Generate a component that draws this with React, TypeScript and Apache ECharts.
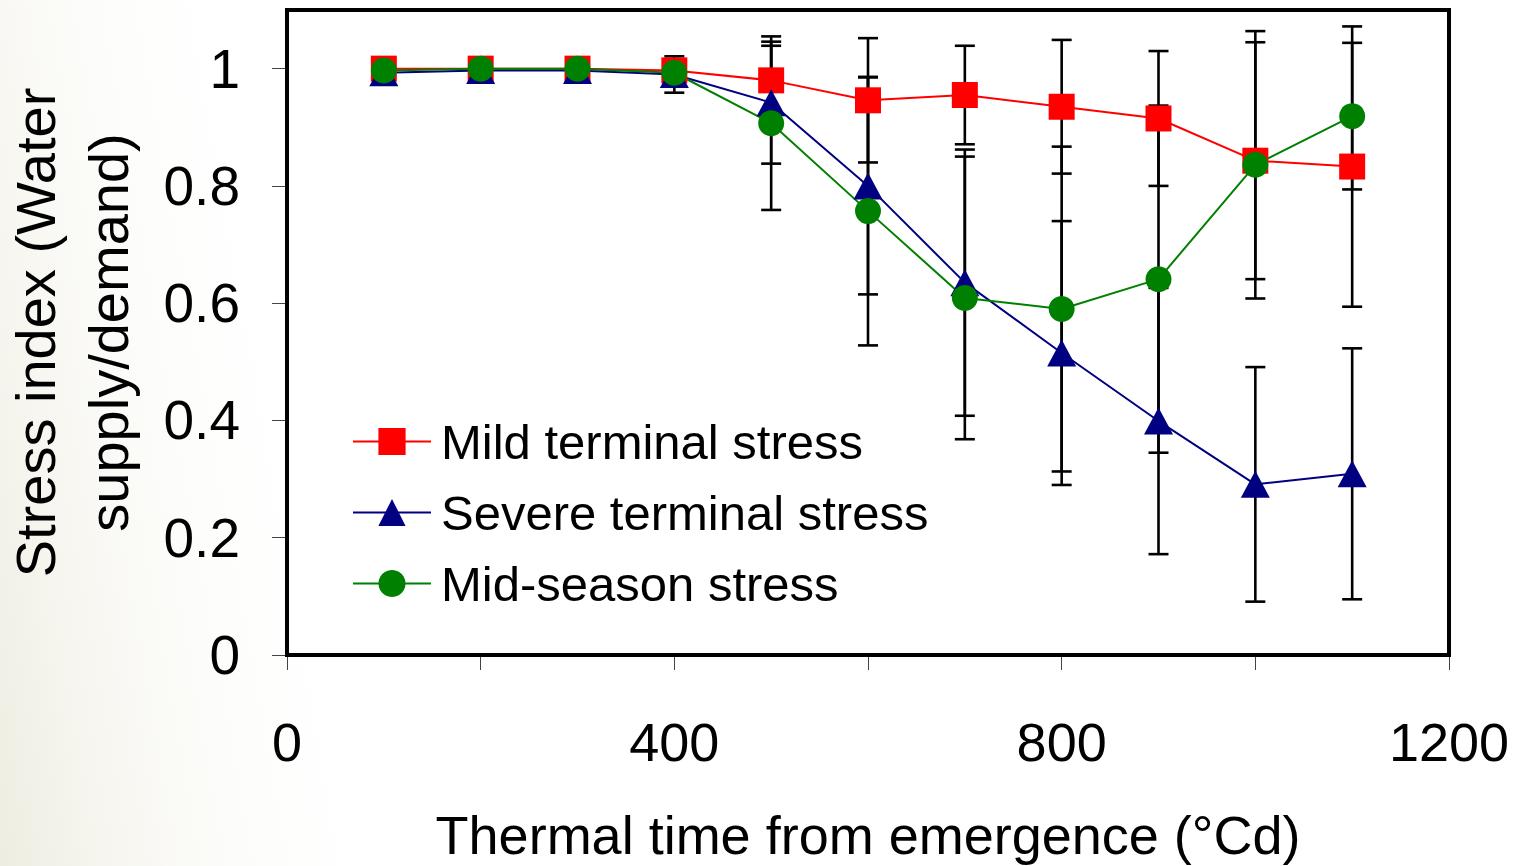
import React, { useEffect, useRef } from "react";
import * as echarts from "echarts";

const thermalTime = [100, 200, 300, 400, 500, 600, 700, 800, 900, 1000, 1100];

const mildStress = [1.0, 1.0, 1.0, 0.997, 0.98, 0.946, 0.955, 0.935, 0.915, 0.843, 0.833];
const mildErr = [0, 0, 0, 0, 0.059, 0.106, 0.084, 0.114, 0.115, 0.202, 0.239];

const severeStress = [0.993, 0.997, 0.997, 0.99, 0.942, 0.8, 0.635, 0.515, 0.399, 0.291, 0.309];
const severeErr = [0, 0, 0, 0.031, 0.104, 0.185, 0.227, 0.225, 0.227, 0.2, 0.214];

const midStress = [0.997, 1.0, 1.0, 0.993, 0.907, 0.757, 0.609, 0.59, 0.641, 0.836, 0.919];
const midErr = [0, 0, 0, 0, 0.148, 0.229, 0.241, 0.277, 0.296, 0.228, 0.125];

const xTickValues = [0, 200, 400, 600, 800, 1000, 1200];
const xLabelValues = [0, 400, 800, 1200];
const yTickValues = [0, 0.2, 0.4, 0.6, 0.8, 1];

const seriesNames = ["Mild terminal stress", "Severe terminal stress", "Mid-season stress"];

const FONT = "'Liberation Sans', Arial, Helvetica, sans-serif";

function pairs(vals: number[]) {
  return thermalTime.map((t, i) => [t, vals[i]]);
}
function errData(vals: number[], errs: number[]) {
  return thermalTime.map((t, i) => [t, vals[i] - errs[i], vals[i] + errs[i]]);
}

function errorRender(params: any, api: any) {
  const x = api.value(0);
  const lo = api.value(1);
  const hi = api.value(2);
  if (Math.abs(hi - lo) < 1e-9) return { type: "group", children: [] };
  const pLo = api.coord([x, lo]);
  const pHi = api.coord([x, hi]);
  const hw = 10;
  const style = { stroke: "#000", lineWidth: 2.6 };
  return {
    type: "group",
    children: [
      { type: "line", shape: { x1: pLo[0], y1: pLo[1], x2: pHi[0], y2: pHi[1] }, style },
      { type: "line", shape: { x1: pLo[0] - hw, y1: pLo[1], x2: pLo[0] + hw, y2: pLo[1] }, style },
      { type: "line", shape: { x1: pHi[0] - hw, y1: pHi[1], x2: pHi[0] + hw, y2: pHi[1] }, style },
    ],
  };
}

export default function App() {
  const ref = useRef<HTMLDivElement>(null);
  useEffect(() => {
    if (!ref.current) return;
    const chart = echarts.init(ref.current, null, { renderer: "svg" });
    const colors = ["#FF0000", "#000080", "#008000"];
    const symbols = ["rect", "triangle", "circle"];
    const vals = [mildStress, severeStress, midStress];
    const errs = [mildErr, severeErr, midErr];
    const lineSeries = vals.map((v, i) => ({
      type: "line",
      name: seriesNames[i],
      data: pairs(v),
      symbol: symbols[i],
      symbolSize: symbols[i] === "triangle" ? [29, 27] : 26,
      showAllSymbol: true,
      color: colors[i],
      lineStyle: { color: colors[i], width: 2 },
      itemStyle: { color: colors[i] },
      z: 5,
    }));
    const errSeries = vals.map((v, i) => ({
      type: "custom",
      name: seriesNames[i] + " error",
      data: errData(v, errs[i]),
      renderItem: errorRender,
      encode: { x: 0, y: [1, 2] },
      z: 3,
      silent: true,
    }));
    chart.setOption({
      animation: false,
      backgroundColor: "#ffffff",
      textStyle: { fontFamily: FONT },
      graphic: [
        {
          type: "rect",
          z: -10,
          silent: true,
          shape: { x: 0, y: 0, width: 340, height: 866 },
          style: {
            fill: {
              type: "linear",
              x: 0,
              y: 1,
              x2: 1,
              y2: 0.55,
              colorStops: [
                { offset: 0, color: "rgba(224,222,200,0.55)" },
                { offset: 0.45, color: "rgba(236,234,220,0.25)" },
                { offset: 1, color: "rgba(255,255,255,0)" },
              ],
            },
          },
        },
      ],
      grid: {
        left: 287,
        top: 10,
        right: 65,
        bottom: 211,
        show: true,
        backgroundColor: "#ffffff",
        borderColor: "#000",
        borderWidth: 4,
        outerBoundsMode: "none",
        containLabel: false,
        z: 1,
      },
      legend: {
        orient: "vertical",
        left: 352,
        top: 417,
        padding: 0,
        itemWidth: 78,
        itemHeight: 34,
        itemGap: 22,
        data: seriesNames,
        textStyle: {
          fontSize: 49,
          lineHeight: 48,
          color: "#000",
          fontFamily: FONT,
          padding: [0, 0, 0, 5],
        },
      },
      xAxis: {
        type: "value",
        min: 0,
        max: 1200,
        interval: 200,
        splitLine: { show: false },
        axisLine: { show: false },
        axisTick: {
          show: true,
          length: 15,
          lineStyle: { color: "#444", width: 1 },
          customValues: xTickValues,
        },
        axisLabel: {
          customValues: xLabelValues,
          fontSize: 54,
          color: "#000",
          margin: 60,
          fontFamily: FONT,
          formatter: (v: number) => String(v),
        },
        name: "Thermal time from emergence (°Cd)",
        nameLocation: "middle",
        nameGap: 153,
        nameTextStyle: { fontSize: 54, color: "#000", fontFamily: FONT },
      },
      yAxis: {
        type: "value",
        min: 0,
        max: 1.1,
        splitLine: { show: false },
        axisLine: { show: false },
        axisTick: {
          show: true,
          length: 15,
          lineStyle: { color: "#444", width: 1 },
          customValues: yTickValues,
        },
        axisLabel: {
          customValues: yTickValues,
          fontSize: 55,
          color: "#000",
          margin: 47,
          fontFamily: FONT,
          formatter: (v: number) => String(Math.round(v * 10) / 10),
        },
        name: "Stress index (Water\nsupply/demand)",
        nameLocation: "middle",
        nameGap: 142,
        nameTextStyle: { fontSize: 56, lineHeight: 73, color: "#000", fontFamily: FONT },
      },
      series: [...errSeries, ...lineSeries],
    });
    return () => chart.dispose();
  }, []);
  return (
    <div
      ref={ref}
      style={{ position: "fixed", left: 0, top: 0, width: 1514, height: 866 }}
    />
  );
}
